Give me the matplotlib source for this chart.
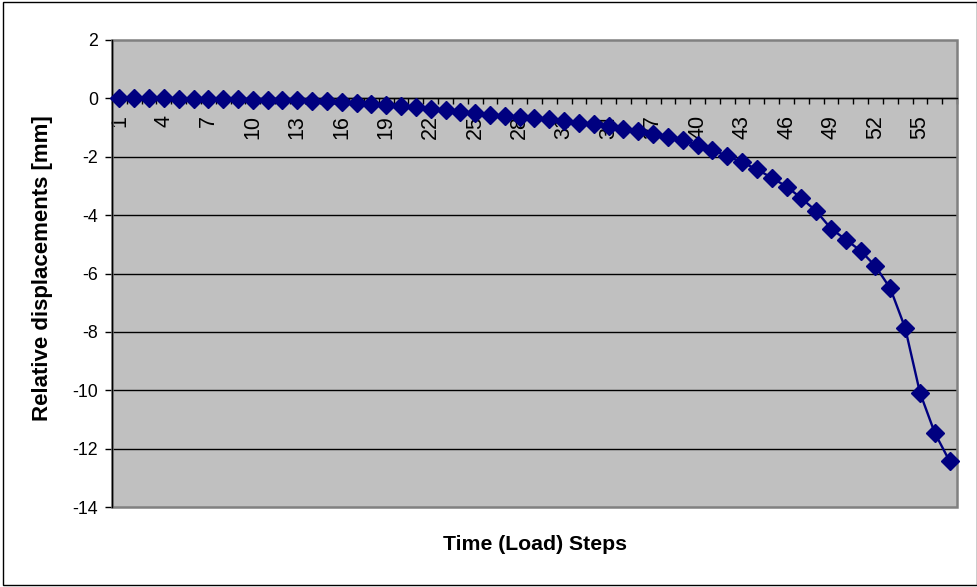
import matplotlib
matplotlib.use("Agg")
import matplotlib.pyplot as plt
from matplotlib.patches import Rectangle
from matplotlib.ticker import FixedLocator, FixedFormatter

plt.rcParams['font.family'] = ['Liberation Sans', 'DejaVu Sans']

# Load steps and measured relative displacements [mm]
steps = list(range(1, 58))
displacement = [
    0.00, 0.00, 0.00, 0.00, -0.01, -0.01, -0.02, -0.02, -0.03, -0.04,
    -0.05, -0.06, -0.07, -0.08, -0.10, -0.12, -0.15, -0.19, -0.23, -0.27,
    -0.31, -0.36, -0.41, -0.46, -0.51, -0.56, -0.60, -0.64, -0.68, -0.72,
    -0.77, -0.83, -0.89, -0.96, -1.04, -1.12, -1.21, -1.31, -1.42, -1.60,
    -1.77, -1.97, -2.19, -2.43, -2.72, -3.02, -3.42, -3.86, -4.46, -4.84,
    -5.22, -5.75, -6.51, -7.86, -10.08, -11.46, -12.43,
]
step_labels = list(range(1, 58, 3))
y_ticks = list(range(-14, 3, 2))

fig = plt.figure(figsize=(9.78, 5.87), dpi=100)
fig.patch.set_facecolor('white')
# outer chart frame
fig.patches.append(Rectangle((3 / 978, 2 / 587), 974 / 978, 583 / 587,
                             transform=fig.transFigure, fill=False,
                             edgecolor='black', linewidth=1.0))

ax = fig.add_axes([112 / 978, 80 / 587, 845 / 978, 467 / 587])
ax.set_facecolor('#C0C0C0')

ax.plot(steps, displacement, color='#000080', linewidth=1.7,
        marker='D', markersize=9.5, markerfacecolor='#000080',
        markeredgecolor='#000080', zorder=5, clip_on=False)

ax.set_xlim(0.5, len(steps) + 0.5)
ax.set_ylim(-14, 2)

# horizontal gridlines
for yv in y_ticks:
    if -14 < yv < 2:
        ax.axhline(yv, color='black', linewidth=1.0, zorder=1)

# plot-area border
for side in ['top', 'right']:
    ax.spines[side].set_visible(False)
ax.add_patch(Rectangle((0, 0), 1, 1, transform=ax.transAxes, fill=False,
                       edgecolor='#808080', linewidth=1.8, zorder=2,
                       clip_on=False))
ax.spines['left'].set_color('black')
ax.spines['left'].set_linewidth(1.0)
ax.spines['left'].set_zorder(3)

# category axis crosses at zero
ax.spines['bottom'].set_position(('data', 0))
ax.spines['bottom'].set_color('black')
ax.spines['bottom'].set_linewidth(1.0)
ax.spines['bottom'].set_zorder(3)

boundaries = [s - 0.5 for s in steps] + [len(steps) + 0.5]
ax.xaxis.set_major_locator(FixedLocator(boundaries))
ax.xaxis.set_major_formatter(FixedFormatter([''] * len(boundaries)))
ax.xaxis.set_minor_locator(FixedLocator(step_labels))
ax.xaxis.set_minor_formatter(FixedFormatter([str(s) for s in step_labels]))
ax.tick_params(axis='x', which='major', direction='out', length=4,
               width=1.0, color='black')
ax.tick_params(axis='x', which='minor', length=0, pad=12, labelsize=15.5,
               labelrotation=90)
for lbl in ax.xaxis.get_minorticklabels():
    lbl.set_verticalalignment('top')
    lbl.set_horizontalalignment('center')

ax.set_yticks(y_ticks)
ax.set_yticklabels([str(v) for v in y_ticks])
ax.tick_params(axis='y', direction='out', length=5, width=1.0,
               color='black', labelsize=12.8, pad=5)

fig.text(535 / 978, 1 - 545 / 587, 'Time (Load) Steps', ha='center',
         va='center', fontsize=15.3, fontweight='bold')
fig.text(43 / 978, 1 - 268 / 587, 'Relative displacements [mm]',
         ha='center', va='center', rotation=90, fontsize=16,
         fontweight='bold')

fig.savefig('out.png', dpi=100, facecolor='white')
